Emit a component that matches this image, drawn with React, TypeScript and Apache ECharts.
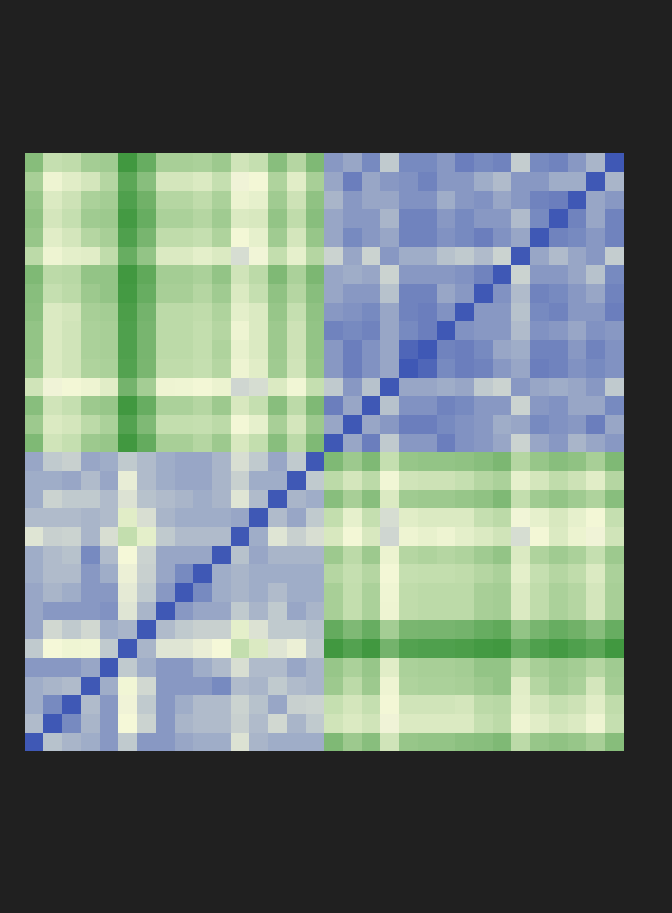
import React, { useEffect, useRef } from "react";
import * as echarts from "echarts";

const variables = [
  "V01", "V02", "V03", "V04", "V05", "V06", "V07", "V08",
  "V09", "V10", "V11", "V12", "V13", "V14", "V15", "V16",
  "V17", "V18", "V19", "V20", "V21", "V22", "V23", "V24",
  "V25", "V26", "V27", "V28", "V29", "V30", "V31", "V32",
];

// Cross block: rows y = 31 .. 16, columns x = 0 .. 15 (mirrored into x 16..31, y 0..15)
const crossBlockRows = [
  [-0.60, -0.26, -0.29, -0.44, -0.46, -0.98, -0.77, -0.42, -0.42, -0.40, -0.48, -0.20, -0.26, -0.59, -0.35, -0.64],
  [-0.42, -0.04, -0.11, -0.18, -0.35, -0.83, -0.59, -0.18, -0.18, -0.14, -0.26, 0.03, -0.01, -0.38, -0.11, -0.42],
  [-0.51, -0.14, -0.22, -0.40, -0.44, -0.90, -0.72, -0.35, -0.35, -0.29, -0.40, -0.05, -0.08, -0.46, -0.22, -0.55],
  [-0.55, -0.18, -0.26, -0.46, -0.48, -0.96, -0.77, -0.40, -0.40, -0.35, -0.46, -0.14, -0.16, -0.53, -0.29, -0.59],
  [-0.51, -0.11, -0.18, -0.35, -0.42, -0.90, -0.68, -0.29, -0.29, -0.26, -0.38, -0.01, -0.08, -0.46, -0.18, -0.51],
  [-0.31, -0.04, -0.09, -0.11, -0.29, -0.77, -0.53, -0.14, -0.14, -0.09, -0.14, 0.17, 0.02, -0.27, -0.08, -0.35],
  [-0.64, -0.31, -0.33, -0.53, -0.53, -0.98, -0.81, -0.44, -0.44, -0.40, -0.53, -0.20, -0.31, -0.64, -0.40, -0.66],
  [-0.59, -0.26, -0.31, -0.48, -0.53, -0.96, -0.77, -0.42, -0.42, -0.35, -0.46, -0.14, -0.26, -0.55, -0.35, -0.59],
  [-0.57, -0.14, -0.18, -0.42, -0.44, -0.92, -0.70, -0.31, -0.31, -0.29, -0.38, -0.09, -0.14, -0.51, -0.26, -0.55],
  [-0.53, -0.14, -0.20, -0.40, -0.42, -0.90, -0.68, -0.31, -0.31, -0.27, -0.35, -0.04, -0.14, -0.48, -0.22, -0.53],
  [-0.53, -0.14, -0.20, -0.40, -0.42, -0.90, -0.68, -0.31, -0.31, -0.27, -0.38, -0.07, -0.14, -0.48, -0.22, -0.53],
  [-0.51, -0.14, -0.20, -0.38, -0.40, -0.88, -0.67, -0.29, -0.29, -0.26, -0.35, -0.04, -0.11, -0.46, -0.20, -0.51],
  [-0.20, 0.03, -0.01, -0.04, -0.11, -0.70, -0.44, -0.04, -0.03, -0.01, -0.05, 0.21, 0.17, -0.14, -0.02, -0.26],
  [-0.59, -0.20, -0.26, -0.48, -0.51, -0.98, -0.77, -0.40, -0.40, -0.35, -0.48, -0.16, -0.26, -0.59, -0.31, -0.64],
  [-0.48, -0.14, -0.18, -0.31, -0.40, -0.88, -0.64, -0.27, -0.27, -0.26, -0.31, -0.01, -0.08, -0.42, -0.18, -0.48],
  [-0.64, -0.20, -0.26, -0.48, -0.51, -0.98, -0.79, -0.42, -0.42, -0.35, -0.48, -0.16, -0.27, -0.59, -0.31, -0.64],
];

// Upper diagonal block: rows y = 31 .. 16, columns x = 16 .. 31
const upperBlockRows = [
  [0.60, 0.51, 0.69, 0.29, 0.69, 0.69, 0.60, 0.76, 0.69, 0.73, 0.27, 0.69, 0.73, 0.60, 0.42, 1],
  [0.51, 0.76, 0.51, 0.60, 0.64, 0.73, 0.60, 0.60, 0.47, 0.38, 0.60, 0.60, 0.47, 0.47, 1, 0.42],
  [0.42, 0.60, 0.51, 0.51, 0.64, 0.64, 0.47, 0.60, 0.64, 0.51, 0.60, 0.73, 0.76, 1, 0.51, 0.60],
  [0.51, 0.60, 0.60, 0.42, 0.73, 0.73, 0.60, 0.69, 0.60, 0.60, 0.38, 0.69, 1, 0.73, 0.51, 0.73],
  [0.51, 0.69, 0.60, 0.51, 0.73, 0.73, 0.64, 0.69, 0.76, 0.64, 0.51, 1, 0.73, 0.69, 0.60, 0.73],
  [0.23, 0.51, 0.23, 0.60, 0.47, 0.47, 0.34, 0.29, 0.38, 0.23, 1, 0.51, 0.38, 0.51, 0.60, 0.27],
  [0.51, 0.47, 0.51, 0.23, 0.60, 0.60, 0.60, 0.64, 0.73, 1, 0.23, 0.60, 0.60, 0.51, 0.34, 0.69],
  [0.51, 0.60, 0.60, 0.34, 0.73, 0.73, 0.51, 0.60, 1, 0.64, 0.38, 0.73, 0.69, 0.60, 0.51, 0.73],
  [0.60, 0.64, 0.69, 0.51, 0.73, 0.76, 0.64, 1, 0.60, 0.60, 0.34, 0.69, 0.73, 0.60, 0.60, 0.76],
  [0.73, 0.69, 0.73, 0.51, 0.69, 0.76, 1, 0.64, 0.60, 0.60, 0.38, 0.64, 0.60, 0.51, 0.64, 0.60],
  [0.60, 0.76, 0.64, 0.51, 0.91, 1, 0.73, 0.76, 0.69, 0.51, 0.47, 0.73, 0.73, 0.60, 0.73, 0.64],
  [0.60, 0.76, 0.64, 0.51, 1, 0.91, 0.69, 0.76, 0.73, 0.60, 0.51, 0.76, 0.73, 0.64, 0.69, 0.64],
  [0.29, 0.60, 0.34, 1, 0.51, 0.51, 0.47, 0.51, 0.29, 0.23, 0.60, 0.51, 0.47, 0.51, 0.60, 0.29],
  [0.76, 0.51, 1, 0.34, 0.64, 0.64, 0.73, 0.69, 0.60, 0.60, 0.23, 0.60, 0.64, 0.51, 0.51, 0.69],
  [0.51, 1, 0.51, 0.60, 0.76, 0.76, 0.69, 0.64, 0.60, 0.47, 0.51, 0.69, 0.64, 0.60, 0.76, 0.51],
  [1, 0.51, 0.76, 0.29, 0.60, 0.60, 0.76, 0.64, 0.60, 0.51, 0.23, 0.51, 0.60, 0.42, 0.51, 0.60],
];

// Lower diagonal block: rows y = 15 .. 0, columns x = 0 .. 15
const lowerBlockRows = [
  [0.51, 0.29, 0.25, 0.51, 0.47, 0.29, 0.38, 0.47, 0.51, 0.51, 0.42, 0.16, 0.29, 0.51, 0.29, 1],
  [0.47, 0.47, 0.51, 0.38, 0.51, 0.07, 0.38, 0.47, 0.51, 0.51, 0.42, 0.25, 0.47, 0.47, 1, 0.29],
  [0.47, 0.23, 0.29, 0.29, 0.38, 0.14, 0.34, 0.38, 0.42, 0.47, 0.42, 0.12, 0.38, 1, 0.42, 0.47],
  [0.38, 0.38, 0.38, 0.42, 0.38, -0.11, 0.16, 0.42, 0.47, 0.47, 0.47, 0.51, 1, 0.38, 0.51, 0.29],
  [0.12, 0.25, 0.23, 0.42, 0.16, -0.27, -0.09, 0.29, 0.38, 0.38, 0.38, 1, 0.47, 0.12, 0.25, 0.16],
  [0.47, 0.38, 0.34, 0.69, 0.38, 0.00, 0.23, 0.51, 0.51, 0.51, 1, 0.34, 0.51, 0.42, 0.42, 0.42],
  [0.47, 0.38, 0.38, 0.60, 0.47, 0.05, 0.25, 0.51, 0.69, 1, 0.47, 0.42, 0.47, 0.47, 0.47, 0.47],
  [0.51, 0.42, 0.47, 0.60, 0.60, 0.09, 0.29, 0.60, 1, 0.69, 0.47, 0.42, 0.47, 0.38, 0.47, 0.47],
  [0.51, 0.60, 0.60, 0.60, 0.64, 0.12, 0.42, 1, 0.60, 0.51, 0.51, 0.29, 0.42, 0.29, 0.51, 0.42],
  [0.51, 0.20, 0.29, 0.20, 0.47, 0.42, 1, 0.38, 0.29, 0.25, 0.25, -0.09, 0.14, 0.29, 0.29, 0.34],
  [0.29, 0.00, -0.03, -0.02, 0.29, 1, 0.42, 0.12, 0.12, 0.06, 0.00, -0.27, -0.14, 0.12, 0.05, 0.29],
  [0.60, 0.60, 0.60, 0.51, 1, 0.29, 0.47, 0.60, 0.60, 0.47, 0.38, 0.16, 0.38, 0.38, 0.51, 0.42],
  [0.47, 0.42, 0.38, 1, 0.47, -0.02, 0.20, 0.60, 0.60, 0.60, 0.69, 0.38, 0.42, 0.29, 0.38, 0.42],
  [0.47, 0.69, 1, 0.38, 0.60, 0.03, 0.29, 0.60, 0.47, 0.38, 0.38, 0.23, 0.34, 0.51, 0.25, 0.23],
  [0.38, 1, 0.69, 0.42, 0.60, 0.00, 0.23, 0.60, 0.42, 0.38, 0.38, 0.25, 0.38, 0.20, 0.42, 0.29],
  [1, 0.34, 0.42, 0.47, 0.60, 0.29, 0.60, 0.60, 0.51, 0.47, 0.47, 0.14, 0.42, 0.47, 0.47, 0.47],
];

const colorStops = ["#3d963d", "#f5f8d8", "#3f58b5"];

function buildCells(): [number, number, number][] {
  const n = variables.length;
  const m: number[][] = [];
  for (let i = 0; i < n; i++) m.push(new Array(n).fill(0));
  crossBlockRows.forEach((row, k) =>
    row.forEach((v, c) => {
      const r = 31 - k;
      m[r][c] = v;
      m[c][r] = v;
    })
  );
  upperBlockRows.forEach((row, k) =>
    row.forEach((v, j) => {
      m[31 - k][16 + j] = v;
    })
  );
  lowerBlockRows.forEach((row, k) =>
    row.forEach((v, c) => {
      m[15 - k][c] = v;
    })
  );
  const cells: [number, number, number][] = [];
  for (let r = 0; r < n; r++) for (let c = 0; c < n; c++) cells.push([c, r, m[r][c]]);
  return cells;
}

export default function App() {
  const ref = useRef<HTMLDivElement>(null);
  useEffect(() => {
    document.body.style.margin = "0";
    document.body.style.background = "#202020";
    if (!ref.current) return;
    const chart = echarts.init(ref.current, null, { renderer: "svg" });
    chart.setOption({
      animation: false,
      backgroundColor: "#202020",
      grid: { left: 25, top: 153, width: 599, height: 598 },
      xAxis: { type: "category", data: variables, show: false },
      yAxis: { type: "category", data: variables, show: false },
      visualMap: {
        show: false,
        min: -1,
        max: 1,
        calculable: false,
        inRange: { color: colorStops },
      },
      series: [
        {
          type: "heatmap",
          data: buildCells(),
          itemStyle: { borderWidth: 0 },
          emphasis: { disabled: true },
        },
      ],
    });
    return () => chart.dispose();
  }, []);
  return (
    <>
      <style>{".heat-wrap svg path { shape-rendering: crispEdges; }"}</style>
      <div className="heat-wrap" ref={ref} style={{ width: 672, height: 913 }} />
    </>
  );
}
